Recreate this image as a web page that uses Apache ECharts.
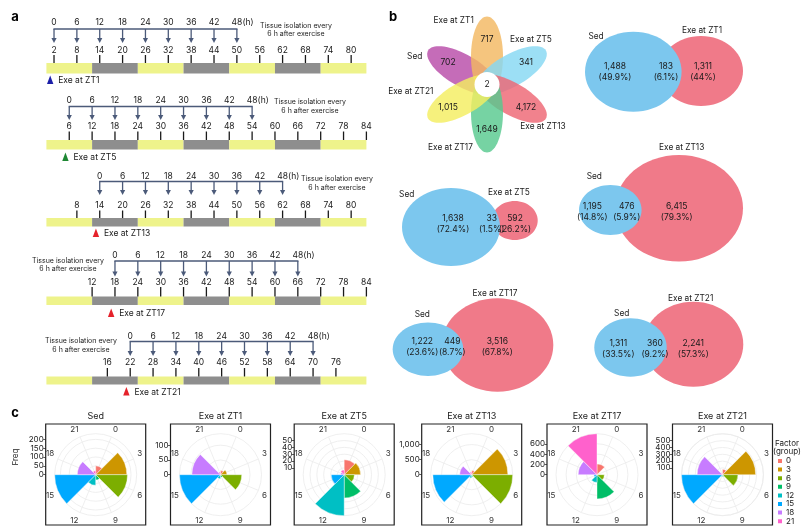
<!DOCTYPE html>
<html><head><meta charset="utf-8">
<script src="https://cdn.jsdelivr.net/npm/echarts@6/dist/echarts.min.js"></script>
<style>html,body{margin:0;padding:0;background:#fff}#c{width:811px;height:532px}</style>
</head><body><div id="c"></div>
<script>
// ================= DATA =================
// Panel a: timelines
const exeZT = [1, 5, 13, 17, 21];
const exeLabels = ['Exe at ZT1', 'Exe at ZT5', 'Exe at ZT13', 'Exe at ZT17', 'Exe at ZT21'];
const firstSampleZT = [2, 6, 14, 18, 22];
const sampleHours = [0, 6, 12, 18, 24, 30, 36, 42, 48];
const ztTicksRow1 = [2, 8, 14, 20, 26, 32, 38, 44, 50, 56, 62, 68, 74, 80];
const ztTicksRow2 = [6, 12, 18, 24, 30, 36, 42, 48, 54, 60, 66, 72, 78, 84];
const ztTicksRow3 = [8, 14, 20, 26, 32, 38, 44, 50, 56, 62, 68, 74, 80];
const ztTicksRow4 = [12, 18, 24, 30, 36, 42, 48, 54, 60, 66, 72, 78, 84];
const ztTicksRow5 = [16, 22, 28, 34, 40, 46, 52, 58, 64, 70, 76];
const periodStart = [0, 12, 24, 36, 48, 60, 72];
const periodEnd = [12, 24, 36, 48, 60, 72, 84];
const periodKind = ['light', 'dark', 'light', 'dark', 'light', 'dark', 'light'];
const tissueText = 'Tissue isolation every\n6 h after exercise';

// Panel b: overlaps
const flowerSets = ['Sed', 'Exe at ZT1', 'Exe at ZT5', 'Exe at ZT13', 'Exe at ZT17', 'Exe at ZT21'];
const flowerUnique = [702, 717, 341, 4172, 1649, 1015];
const flowerCore = 2;
const vennExeNames = ['Exe at ZT1', 'Exe at ZT5', 'Exe at ZT13', 'Exe at ZT17', 'Exe at ZT21'];
const vennSedOnly = [1488, 1638, 1195, 1222, 1311];
const vennShared = [183, 33, 476, 449, 360];
const vennExeOnly = [1311, 592, 6415, 3516, 2241];
const vennSedPct = ['49.9%', '72.4%', '14.8%', '23.6%', '33.5%'];
const vennSharedPct = ['6.1%', '1.5%', '5.9%', '8.7%', '9.2%'];
const vennExePct = ['44%', '26.2%', '79.3%', '67.8%', '57.3%'];

// Panel c: polar frequency plots
const factorGroups = ['0', '3', '6', '9', '12', '15', '18', '21'];
const polarTitles = ['Sed', 'Exe at ZT1', 'Exe at ZT5', 'Exe at ZT13', 'Exe at ZT17', 'Exe at ZT21'];
const freqSed  = [50, 176, 180, 30, 60, 232, 104, 22];
const freqZT1  = [14, 22, 72, 9, 14, 139, 97, 9];
const freqZT5  = [22, 24, 15, 34, 60, 19, 5, 7];
const freqZT13 = [136, 1200, 1360, 70, 110, 1290, 400, 90];
const freqZT17 = [209, 15, 143, 470, 150, 60, 365, 796];
const freqZT21 = [80, 487, 227, 25, 25, 602, 372, 25];
const freqTickStep = [50, 50, 10, 500, 200, 100];

// ================= STYLE / LAYOUT =================
const FF = 'Inter, "Noto Sans", "DejaVu Sans", sans-serif';
const TXT = '#1a1a1a';
const ARROW = '#4B5A79';
const rowLayout = [
  {num: 22,    bracket: 29,    arrowEnd: 43,    zt: 50,    tickTop: 55,    tickBot: 63,    barTop: 63,    barBot: 73.5,  tri: 80},
  {num: 100,   bracket: 106.5, arrowEnd: 120,   zt: 126,   tickTop: 131.5, tickBot: 140,   barTop: 140,   barBot: 149.5, tri: 157},
  {num: 176,   bracket: 181.5, arrowEnd: 195,   zt: 205,   tickTop: 210.5, tickBot: 218,   barTop: 218,   barBot: 226.5, tri: 233},
  {num: 255.5, bracket: 261,   arrowEnd: 276.5, zt: 282.5, tickTop: 287,   tickBot: 296.5, barTop: 296.5, barBot: 305,   tri: 313},
  {num: 336,   bracket: 341.5, arrowEnd: 356,   zt: 362.5, tickTop: 368,   tickBot: 376.5, barTop: 376.5, barBot: 384.5, tri: 391.5}
];
const tissuePos = [[296, 30], [310, 106.5], [337, 183.5], [68, 265], [81, 345.5]];
const triColors = ['#1C1FA8', '#1E8733', '#E5222B', '#E5222B', '#E5222B'];
const periodColors = {light: '#EEF38B', dark: '#8E8E8E'};

const flowerLayout = {cx: 487, cy: 84.5, dist: 28, semiMinor: 16, semiMajor: 40, labelDist: 45, coreR: 12.5};
const flowerColors = ['#B84CA8', '#F3B862', '#86D8F3', '#EE6674', '#58C98F', '#F4EE60'];
const flowerLabelPos = [[414.7, 56.7], [453.7, 20.7], [531, 40], [543, 126.7], [450.5, 147.3], [410.8, 91.7]];

const vennGeom = [
  {sed: [633.3, 71.7, 48.3, 40],   exe: [701, 71, 42, 35]},
  {sed: [451, 227, 49, 39],        exe: [514.7, 220.5, 23, 19.5]},
  {sed: [610.3, 210, 31.3, 25],    exe: [679, 208.3, 64, 53.3]},
  {sed: [428, 349.3, 35.3, 26.7],  exe: [497.5, 345, 55.8, 46.7]},
  {sed: [630.5, 347.5, 36.2, 29.2], exe: [693.3, 344.2, 50, 42.5]}
];
const vennTextPos = [ // [sedX, sharedX, exeX, numY, sedLabel[x,y], exeLabel[x,y]]
  {xs: [615, 666, 703],     y: 66,    sedLab: [596, 37],      exeLab: [702, 31]},
  {xs: [453, 491.7, 515],   y: 218.3, sedLab: [406.7, 195],   exeLab: [509, 192.3]},
  {xs: [592.3, 626.7, 676.7], y: 206, sedLab: [594.3, 176.7], exeLab: [681.7, 147.3]},
  {xs: [422.3, 452.3, 497.3], y: 341.7, sedLab: [422.3, 315], exeLab: [495, 293.3]},
  {xs: [618.3, 655, 693.3], y: 343.3, sedLab: [621.7, 313.3], exeLab: [690.7, 298.3]}
];
const VENN_BLUE = '#7CC7EE', VENN_RED = '#F07A89';

const polarCX = [95.7, 220.5, 344.2, 471.7, 597, 722.5];
const polarCY = 474.7;
const polarR = 41;
const factorColors = ['#F8766D', '#CD9600', '#7CAE00', '#00BE67', '#00BFC4', '#00A9FF', '#C77CFF', '#FF61CC'];

// ================= HELPERS =================
function txt(x, y, s, size, o) {
  o = o || {};
  const al = o.align || 'center', va = o.va || 'middle';
  return {type: 'text', x: x, y: y, silent: true, rotation: o.rotation || 0,
    style: {text: s, fill: o.fill || TXT, font: (o.weight || 'normal') + ' ' + size + 'px ' + FF,
      align: al, verticalAlign: va, textAlign: al, textVerticalAlign: va, lineHeight: o.lineHeight}};
}
const fmt = v => Number(v).toLocaleString('en-US');
const ztRows = [ztTicksRow1, ztTicksRow2, ztTicksRow3, ztTicksRow4, ztTicksRow5];

// ================= PANEL A SERIES =================
const periodData = [];
rowLayout.forEach((L, r) => periodStart.forEach((s, i) => periodData.push([s, periodEnd[i], r, i])));
const tickData = [];
ztRows.forEach((arr, r) => arr.forEach(v => tickData.push([v, r])));
const arrowData = [];
firstSampleZT.forEach((z0, r) => sampleHours.forEach(h => arrowData.push([z0 + h, h, r])));
const bracketData = firstSampleZT.map((z0, r) => [z0, r]);
const exeData = exeZT.map((z, r) => [z, r]);

const seriesA = [
  {type: 'custom', name: 'periods', xAxisIndex: 0, yAxisIndex: 0, data: periodData, silent: true,
    renderItem(p, api) {
      const L = rowLayout[api.value(2)];
      const a = api.coord([api.value(0), L.barTop]), b = api.coord([api.value(1), L.barBot]);
      return {type: 'rect', shape: {x: a[0], y: a[1], width: b[0] - a[0], height: b[1] - a[1]},
        style: {fill: periodColors[periodKind[api.value(3)]]}};
    }},
  {type: 'custom', name: 'zt ticks', xAxisIndex: 0, yAxisIndex: 0, data: tickData, silent: true, z: 3,
    renderItem(p, api) {
      const zt = api.value(0), L = rowLayout[api.value(1)];
      const t = api.coord([zt, L.tickTop]), b = api.coord([zt, L.tickBot]), l = api.coord([zt, L.zt]);
      return {type: 'group', children: [
        {type: 'line', shape: {x1: t[0], y1: t[1], x2: b[0], y2: b[1]}, style: {stroke: TXT, lineWidth: 1.3}},
        txt(l[0], l[1], String(zt), 8.5)
      ]};
    }},
  {type: 'custom', name: 'bracket', xAxisIndex: 0, yAxisIndex: 0, data: bracketData, silent: true,
    renderItem(p, api) {
      const z0 = api.value(0), L = rowLayout[api.value(1)];
      const a = api.coord([z0, L.bracket]), b = api.coord([z0 + sampleHours[sampleHours.length - 1], L.bracket]);
      return {type: 'line', shape: {x1: a[0] - 0.6, y1: a[1], x2: b[0] + 0.6, y2: b[1]}, style: {stroke: ARROW, lineWidth: 1.3}};
    }},
  {type: 'custom', name: 'arrows', xAxisIndex: 0, yAxisIndex: 0, data: arrowData, silent: true,
    renderItem(p, api) {
      const zt = api.value(0), h = api.value(1), L = rowLayout[api.value(2)];
      const a = api.coord([zt, L.bracket]), e = api.coord([zt, L.arrowEnd]), n = api.coord([zt, L.num]);
      const ch = [
        {type: 'line', shape: {x1: a[0], y1: a[1], x2: e[0], y2: e[1] - 4}, style: {stroke: ARROW, lineWidth: 1.3}},
        {type: 'polygon', shape: {points: [[e[0] - 2.6, e[1] - 5], [e[0] + 2.6, e[1] - 5], [e[0], e[1]]]}, style: {fill: ARROW}},
        txt(n[0], n[1], String(h), 8.5)
      ];
      if (h === sampleHours[sampleHours.length - 1]) ch.push(txt(n[0] + 5.5, n[1], '(h)', 8.5, {align: 'left'}));
      return {type: 'group', children: ch};
    }},
  {type: 'custom', name: 'exercise', xAxisIndex: 0, yAxisIndex: 0, data: exeData, silent: true,
    renderItem(p, api) {
      const r = api.value(1), L = rowLayout[r];
      const c = api.coord([api.value(0), L.tri]);
      return {type: 'group', children: [
        {type: 'polygon', shape: {points: [[c[0], c[1] - 4.5], [c[0] + 3.2, c[1] + 4], [c[0] - 3.2, c[1] + 4]]}, style: {fill: triColors[r]}},
        txt(c[0] + 8, c[1] + 0.5, exeLabels[r], 8.5, {align: 'left'})
      ]};
    }}
];

// ================= PANEL B SERIES =================
function ellipsePts(cx, cy, a, b, theta) { // a: half-width across, b: half-length along direction theta (clockwise from up)
  const pts = [];
  const ux = Math.sin(theta), uy = -Math.cos(theta), vx = Math.cos(theta), vy = Math.sin(theta);
  for (let k = 0; k < 72; k++) {
    const t = k / 72 * Math.PI * 2;
    pts.push([cx + ux * b * Math.sin(t) + vx * a * Math.cos(t), cy + uy * b * Math.sin(t) + vy * a * Math.cos(t)]);
  }
  return pts;
}
const flowerData = flowerUnique.map((v, i) => [i, v]);
const seriesB = [
  {type: 'custom', name: 'flower', xAxisIndex: 1, yAxisIndex: 1, data: flowerData, silent: true,
    renderItem(p, api) {
      const i = api.value(0), F = flowerLayout;
      const th = ((i - 1) * 60) * Math.PI / 180;
      const c = api.coord([F.cx, F.cy]);
      const pc = [c[0] + Math.sin(th) * F.dist, c[1] - Math.cos(th) * F.dist];
      return {type: 'polygon', shape: {points: ellipsePts(pc[0], pc[1], F.semiMinor, F.semiMajor, th), smooth: 0},
        style: {fill: flowerColors[i], opacity: 0.82}};
    }},
  {type: 'custom', name: 'flower labels', xAxisIndex: 1, yAxisIndex: 1, data: flowerData, silent: true, z: 4,
    renderItem(p, api) {
      const i = api.value(0), F = flowerLayout;
      const th = ((i - 1) * 60) * Math.PI / 180;
      const c = api.coord([F.cx, F.cy]);
      const lp = api.coord(flowerLabelPos[i]);
      const ch = [
        txt(c[0] + Math.sin(th) * F.labelDist, c[1] - Math.cos(th) * F.labelDist, fmt(api.value(1)), 8.5),
        txt(lp[0], lp[1], flowerSets[i], 8.3)
      ];
      if (i === 0) {
        ch.push({type: 'circle', shape: {cx: c[0], cy: c[1], r: F.coreR}, style: {fill: '#fff'}});
        ch.push(txt(c[0], c[1], String(flowerCore), 8.5));
      }
      return {type: 'group', children: ch};
    }},
  {type: 'custom', name: 'venn', xAxisIndex: 1, yAxisIndex: 1,
    data: vennExeNames.map((n, j) => [j, vennSedOnly[j] + vennShared[j], vennShared[j] + vennExeOnly[j]]), silent: true,
    renderItem(p, api) {
      const j = api.value(0), G = vennGeom[j], T = vennTextPos[j];
      const e = api.coord([G.exe[0], G.exe[1]]), s = api.coord([G.sed[0], G.sed[1]]);
      const ch = [
        {type: 'ellipse', shape: {cx: e[0], cy: e[1], rx: G.exe[2], ry: G.exe[3]}, style: {fill: VENN_RED}},
        {type: 'ellipse', shape: {cx: s[0], cy: s[1], rx: G.sed[2], ry: G.sed[3]}, style: {fill: VENN_BLUE}}
      ];
      const nums = [vennSedOnly[j], vennShared[j], vennExeOnly[j]];
      const pcts = [vennSedPct[j], vennSharedPct[j], vennExePct[j]];
      T.xs.forEach((x, k) => {
        const q = api.coord([x, T.y]);
        ch.push(txt(q[0], q[1], fmt(nums[k]), 8.5));
        ch.push(txt(q[0], q[1] + 11, '(' + pcts[k] + ')', 8.5));
      });
      const sl = api.coord(T.sedLab), el = api.coord(T.exeLab);
      ch.push(txt(sl[0], sl[1], 'Sed', 8.3));
      ch.push(txt(el[0], el[1], vennExeNames[j], 8.3));
      return {type: 'group', children: ch};
    }}
];

// ================= PANEL C =================
const freqAll = [freqSed, freqZT1, freqZT5, freqZT13, freqZT17, freqZT21];
const polars = [], angleAxes = [], radiusAxes = [], seriesC = [];
const gridsC = [], xAxesC = [], yAxesC = [];
const graphicC = [];
freqAll.forEach((vals, p) => {
  const mx = Math.max.apply(null, vals);
  const step = freqTickStep[p];
  const last = Math.floor(mx / step) * step;
  polars.push({center: [polarCX[p], polarCY], radius: [0, polarR]});
  angleAxes.push({polarIndex: p, type: 'category', data: factorGroups, startAngle: 90, clockwise: true, boundaryGap: true,
    axisLine: {show: false}, axisTick: {show: false, alignWithLabel: true},
    axisLabel: {margin: 4, fontSize: 8, color: '#333', fontFamily: FF},
    splitLine: {show: true, lineStyle: {color: '#EBEBEB', width: 0.8}}});
  radiusAxes.push({polarIndex: p, type: 'value', min: 0, max: mx, interval: step,
    axisLine: {show: false}, axisTick: {show: false}, axisLabel: {show: false},
    splitLine: {show: true, lineStyle: {color: '#EBEBEB', width: 0.8}}});
  factorGroups.forEach((g, k) => {
    seriesC.push({type: 'bar', coordinateSystem: 'polar', polarIndex: p, name: g, stack: 'panel' + p,
      barCategoryGap: '0%', silent: true,
      itemStyle: {color: factorColors[k], borderColor: '#ffffff', borderWidth: 0.4},
      data: factorGroups.map((gg, i) => i === k ? vals[k] : '-')});
  });
  const h = polarR * last / mx;
  gridsC.push({left: polarCX[p] - 50, top: polarCY - h, width: 1, height: h});
  xAxesC.push({gridIndex: 2 + p, type: 'value', show: false});
  const ya = {gridIndex: 2 + p, type: 'value', min: 0, max: last, interval: step, position: 'left',
    axisLine: {show: false}, axisTick: {show: true, length: 2.5, lineStyle: {color: '#333', width: 0.8}},
    axisLabel: {fontSize: 8, margin: 2, color: '#222', fontFamily: FF, formatter: v => fmt(v)},
    splitLine: {show: false}};
  if (p === 0) Object.assign(ya, {name: 'Freq', nameLocation: 'middle', nameRotate: 90, nameGap: 26,
    nameTextStyle: {fontSize: 8, color: TXT, fontFamily: FF}});
  yAxesC.push(ya);
  graphicC.push({type: 'rect', silent: true, z: 10, shape: {x: polarCX[p] - 50, y: 424, width: 100, height: 101},
    style: {fill: 'none', stroke: '#222', lineWidth: 1.2}});
  graphicC.push(txt(polarCX[p], 416.5, polarTitles[p], 9));
});

// ================= OPTION =================
const option = {
  animation: false,
  grid: [
    {left: 46.4, width: 320, top: 0, height: 400},
    {left: 380, width: 431, top: 0, height: 400}
  ].concat(gridsC),
  xAxis: [
    {gridIndex: 0, type: 'value', min: 0, max: 84, show: false},
    {gridIndex: 1, type: 'value', min: 380, max: 811, show: false}
  ].concat(xAxesC),
  yAxis: [
    {gridIndex: 0, type: 'value', min: 0, max: 400, inverse: true, show: false},
    {gridIndex: 1, type: 'value', min: 0, max: 400, inverse: true, show: false}
  ].concat(yAxesC),
  polar: polars,
  angleAxis: angleAxes,
  radiusAxis: radiusAxes,
  legend: {data: factorGroups, orient: 'vertical', left: 776, top: 457, itemWidth: 6, itemHeight: 6, itemGap: 0.6,
    icon: 'rect', selectedMode: false, padding: 0,
    textStyle: {fontSize: 8, lineHeight: 7, color: TXT, fontFamily: FF, padding: [0, 0, 0, -2]}},
  graphic: [
    txt(15, 17, 'a', 13, {weight: 'bold', fill: '#000'}),
    txt(393, 17, 'b', 13, {weight: 'bold', fill: '#000'}),
    txt(15, 413, 'c', 13, {weight: 'bold', fill: '#000'}),
    txt(787, 447.5, 'Factor\n(group)', 8, {lineHeight: 8})
  ].concat(tissuePos.map(q => txt(q[0], q[1], tissueText, 7, {lineHeight: 8.3}))).concat(graphicC),
  series: seriesA.concat(seriesB).concat(seriesC)
};
const chart = echarts.init(document.getElementById('c'), null, {renderer: 'canvas', width: 811, height: 532});
chart.setOption(option);
</script></body></html>
